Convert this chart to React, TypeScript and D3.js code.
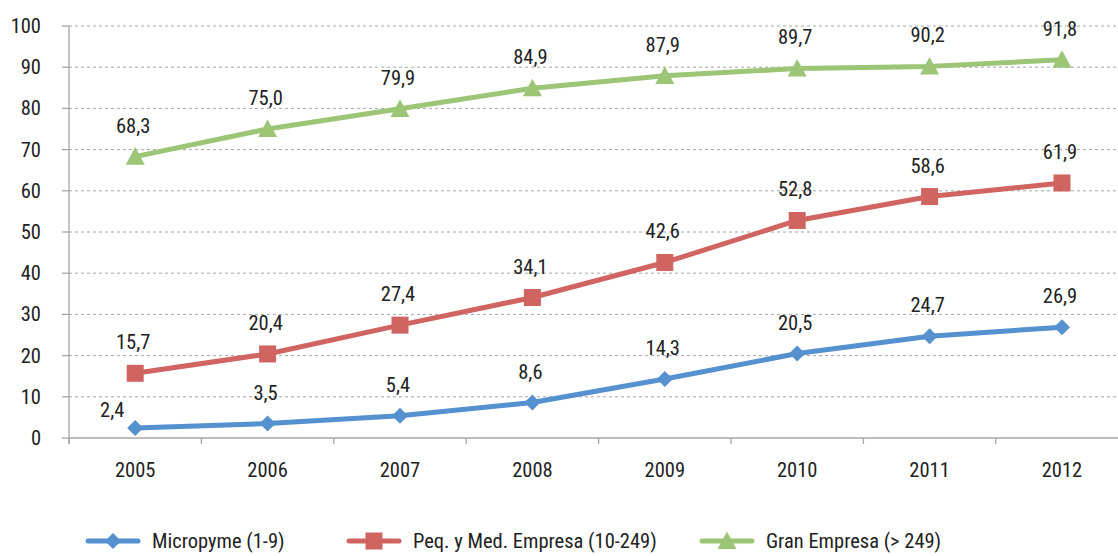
import React from "react";
import * as d3 from "d3";

const years = ["2005", "2006", "2007", "2008", "2009", "2010", "2011", "2012"];
const micro = [2.4, 3.5, 5.4, 8.6, 14.3, 20.5, 24.7, 26.9];
const pyme = [15.7, 20.4, 27.4, 34.1, 42.6, 52.8, 58.6, 61.9];
const gran = [68.3, 75.0, 79.9, 84.9, 87.9, 89.7, 90.2, 91.8];
const yTicks = [0, 10, 20, 30, 40, 50, 60, 70, 80, 90, 100];
const seriesNames = ["Micropyme (1-9)", "Peq. y Med. Empresa (10-249)", "Gran Empresa (> 249)"];

const W = 1118;
const H = 556;
const FONT = "'Liberation Sans Narrow', 'Roboto Condensed', 'Arial Narrow', sans-serif";
const colors = ["#5590cf", "#d06461", "#9cc576"];
const TXT = "#222";
const FS = 20.5;

export default function App() {
  const x = d3.scaleBand().domain(years).range([69, 69 + 132.4 * 8]).padding(0);
  const y = d3.scaleLinear().domain([0, 100]).range([438, 26]);
  const cx = (yr: string) => (x(yr) as number) + x.bandwidth() / 2;
  const line = d3
    .line<number>()
    .x((_, i) => cx(years[i]))
    .y((d) => y(d));
  const series = [micro, pyme, gran];
  const fmt = (v: number) => v.toFixed(1).replace(".", ",");

  const marker = (s: number, px: number, py: number, key: string) => {
    if (s === 0) {
      const r = 8;
      return (
        <path key={key} d={`M${px},${py - r}L${px + r},${py}L${px},${py + r}L${px - r},${py}Z`} fill={colors[0]} />
      );
    }
    if (s === 1) {
      const r = 8.5;
      return <rect key={key} x={px - r} y={py - r} width={2 * r} height={2 * r} fill={colors[1]} />;
    }
    const r = 9.5;
    return (
      <path key={key} d={`M${px},${py - r}L${px + r},${py + r * 0.85}L${px - r},${py + r * 0.85}Z`} fill={colors[2]} />
    );
  };

  const legendX = [88, 349, 702];

  return (
    <svg
      width={W}
      height={H}
      style={{ position: "absolute", left: 0, top: 0, background: "#fff" }}
      fontFamily={FONT}
    >
      <rect x={0} y={0} width={W} height={H} fill="#fff" />
      {yTicks.slice(1).map((t) => (
        <line key={"g" + t} x1={69} x2={W} y1={y(t)} y2={y(t)} stroke="#a6a6a6" strokeWidth={1} strokeDasharray="3,3" />
      ))}
      <line x1={69} x2={69} y1={y(100)} y2={y(0) + 6} stroke="#a6a6a6" strokeWidth={1.3} />
      <line x1={69} x2={W} y1={y(0)} y2={y(0)} stroke="#a6a6a6" strokeWidth={1.3} />
      {yTicks.map((t) => (
        <line key={"yt" + t} x1={62} x2={69} y1={y(t)} y2={y(t)} stroke="#a6a6a6" strokeWidth={1.3} />
      ))}
      {years.map((yr) => (
        <line
          key={"xt" + yr}
          x1={x(yr) as number}
          x2={x(yr) as number}
          y1={y(0)}
          y2={y(0) + 6}
          stroke="#a6a6a6"
          strokeWidth={1.3}
        />
      ))}
      {yTicks.map((t) => (
        <text key={"yl" + t} x={41} y={y(t)} textAnchor="end" dominantBaseline="central" fontSize={FS} fill={TXT}>
          {t}
        </text>
      ))}
      {years.map((yr) => (
        <text key={"xl" + yr} x={cx(yr)} y={470} textAnchor="middle" dominantBaseline="central" fontSize={FS} fill={TXT}>
          {yr}
        </text>
      ))}
      {series.map((s, si) => (
        <path key={"l" + si} d={line(s) || ""} fill="none" stroke={colors[si]} strokeWidth={5} strokeLinejoin="round" />
      ))}
      {series.map((s, si) => s.map((v, i) => marker(si, cx(years[i]), y(v), `m${si}-${i}`)))}
      {series.map((s, si) =>
        s.map((v, i) => {
          const first = si === 0 && i === 0;
          return (
            <text
              key={`t${si}-${i}`}
              x={cx(years[i]) + (first ? -23 : -2)}
              y={y(v) + (first ? -18 : -31)}
              textAnchor="middle"
              dominantBaseline="central"
              fontSize={FS}
              fill={TXT}
            >
              {fmt(v)}
            </text>
          );
        })
      )}
      {seriesNames.map((n, si) => {
        const lx = legendX[si];
        return (
          <g key={"lg" + si}>
            <line x1={lx} x2={lx + 50} y1={541} y2={541} stroke={colors[si]} strokeWidth={5} strokeLinecap="round" />
            {marker(si, lx + 25, 541, "lm" + si)}
            <text x={lx + 64} y={541} dominantBaseline="central" fontSize={FS} fill={TXT}>
              {n}
            </text>
          </g>
        );
      })}
    </svg>
  );
}
